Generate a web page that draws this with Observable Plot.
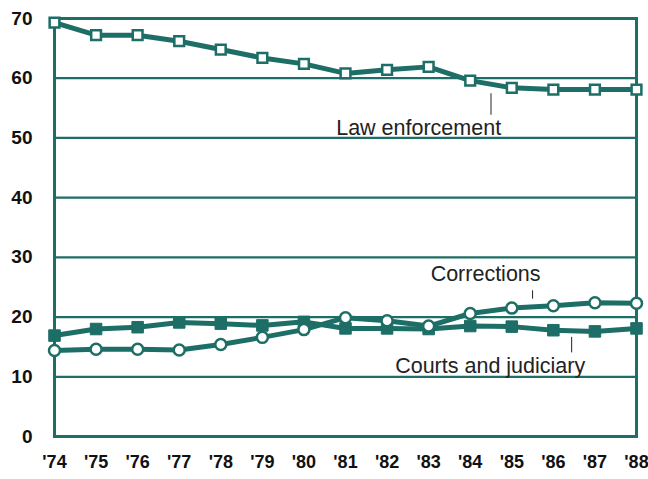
<!DOCTYPE html>
<html>
<head>
<meta charset="utf-8">
<script src="https://cdn.jsdelivr.net/npm/d3@7"></script>
<script src="https://cdn.jsdelivr.net/npm/@observablehq/plot@0.6"></script>
<style>
  html, body { margin: 0; padding: 0; background: #fff; }
  #chart { width: 648px; height: 479px; }
</style>
</head>
<body>
<div id="chart"></div>
<script>
const years = [1974,1975,1976,1977,1978,1979,1980,1981,1982,1983,1984,1985,1986,1987,1988];
const lawEnforcement = [69.3,67.2,67.2,66.2,64.8,63.4,62.4,60.8,61.4,61.9,59.6,58.4,58.1,58.1,58.1];
const corrections = [14.4,14.6,14.6,14.5,15.4,16.6,17.9,19.9,19.4,18.5,20.6,21.5,21.9,22.4,22.3];
const courts = [16.9,18.0,18.3,19.1,18.9,18.6,19.2,18.1,18.1,18.0,18.5,18.4,17.8,17.6,18.1];
const yTicks = [0,10,20,30,40,50,60,70];
const gridValues = [10,20,30,40,50,60];

const labels = [
  {text: "Law enforcement", x: 1982.76, y: 51.6, lx: 1984.5, y1: 57.4, y2: 53.8},
  {text: "Corrections", x: 1984.37, y: 27.2, lx: 1985.5, y1: 24.4, y2: 23.0},
  {text: "Courts and judiciary", x: 1984.48, y: 11.85, lx: 1986.44, y1: 16.6, y2: 14.0}
];

const teal = "#1d6e66";
const rows = s => years.map((yr, i) => ({year: yr, value: s[i]}));
const law = rows(lawEnforcement), corr = rows(corrections), crt = rows(courts);

const chart = Plot.plot({
  width: 648,
  height: 479,
  marginLeft: 54,
  marginRight: 12,
  marginTop: 18,
  marginBottom: 43,
  style: {fontFamily: "'Liberation Sans', Arial, sans-serif", background: "#fff"},
  x: {domain: [1974, 1988], ticks: years, tickFormat: d => "'" + String(d).slice(2)},
  y: {domain: [0, 70], ticks: yTicks},
  marks: [
    Plot.ruleY(gridValues, {stroke: teal, strokeWidth: 2.2}),
    Plot.frame({stroke: teal, strokeWidth: 3}),
    Plot.axisY({ticks: yTicks, tickSize: 0, tickPadding: 22, fontSize: 19, fontWeight: "bold", fill: "#111", label: null}),
    Plot.axisX({ticks: years, tickFormat: d => "'" + String(d).slice(2), tickSize: 0, tickPadding: 19, fontSize: 18, fontWeight: "bold", fill: "#111", label: null}),
    Plot.line(crt, {x: "year", y: "value", stroke: teal, strokeWidth: 5}),
    Plot.line(corr, {x: "year", y: "value", stroke: teal, strokeWidth: 5}),
    Plot.line(law, {x: "year", y: "value", stroke: teal, strokeWidth: 5}),
    Plot.dot(crt, {x: "year", y: "value", symbol: "square", r: 6.5, fill: teal, stroke: teal, strokeWidth: 1}),
    Plot.dot(corr, {x: "year", y: "value", symbol: "circle", r: 5.5, fill: "white", stroke: teal, strokeWidth: 2.5}),
    Plot.dot(law, {x: "year", y: "value", symbol: "square", r: 5.5, fill: "white", stroke: teal, strokeWidth: 2.5}),
    Plot.ruleX(labels, {x: "lx", y1: "y1", y2: "y2", stroke: "#222", strokeWidth: 1}),
    Plot.text(labels, {x: "x", y: "y", text: "text", fontSize: 21.5, fill: "#222", textAnchor: "middle"})
  ]
});
document.getElementById("chart").appendChild(chart);
</script>
</body>
</html>
